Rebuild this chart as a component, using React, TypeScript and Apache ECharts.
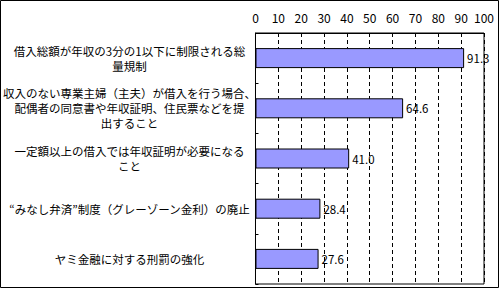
import React, { useEffect, useRef } from "react";
import * as echarts from "echarts";

const categories = [
  "借入総額が年収の3分の1以下に制限される総\n量規制",
  "収入のない専業主婦（主夫）が借入を行う場合、\n配偶者の同意書や年収証明、住民票などを提\n出すること",
  "一定額以上の借入では年収証明が必要になる\nこと",
  "“みなし弁済”制度（グレーゾーン金利）の廃止",
  "ヤミ金融に対する刑罰の強化",
];
const values = [91.3, 64.6, 41.0, 28.4, 27.6];
const axisMin = 0;
const axisMax = 100;
const axisInterval = 10;

const FONT = "'Noto Sans CJK JP', 'Noto Sans', sans-serif";

export default function App() {
  const ref = useRef<HTMLDivElement>(null);
  useEffect(() => {
    if (!ref.current) return;
    const chart = echarts.init(ref.current, null, { renderer: "svg" });
    chart.setOption({
      animation: false,
      backgroundColor: "#ffffff",
      grid: {
        left: 254,
        right: 16,
        top: 33,
        bottom: 5,
        show: true,
        borderColor: "#000",
        borderWidth: 1,
        containLabel: false,
      },
      xAxis: {
        type: "value",
        position: "top",
        min: axisMin,
        max: axisMax,
        interval: axisInterval,
        axisLine: { show: true, lineStyle: { color: "#000", width: 1 } },
        axisTick: { show: false },
        axisLabel: {
          color: "#000",
          fontSize: 12,
          fontFamily: FONT,
          margin: 10,
        },
        splitLine: {
          show: true,
          lineStyle: { color: "#000", type: [4, 3], width: 1 },
        },
      },
      yAxis: {
        type: "category",
        data: categories,
        inverse: true,
        axisLine: { show: true, lineStyle: { color: "#000", width: 1 } },
        axisTick: { show: true, inside: true, length: 3, lineStyle: { color: "#000" } },
        axisLabel: {
          color: "#000",
          fontSize: 11.5,
          fontFamily: FONT,
          align: "center",
          margin: 126,
          lineHeight: 15,
        },
        splitLine: { show: false },
      },
      series: [
        {
          type: "bar",
          data: values,
          barWidth: 20,
          itemStyle: { color: "#9999FF", borderColor: "#000", borderWidth: 1 },
          label: {
            show: true,
            position: "right",
            distance: 3,
            color: "#000",
            fontSize: 11.5,
            fontFamily: FONT,
            formatter: (p: any) => Number(p.value).toFixed(1),
          },
        },
      ],
      graphic: [
        {
          type: "rect",
          shape: { x: 0.5, y: 0.5, width: 498, height: 287 },
          style: { fill: "none", stroke: "#000", lineWidth: 1 },
          silent: true,
        },
      ],
    });
    return () => chart.dispose();
  }, []);
  return (
    <div
      ref={ref}
      style={{ position: "fixed", left: 0, top: 0, width: 500, height: 289 }}
    />
  );
}
